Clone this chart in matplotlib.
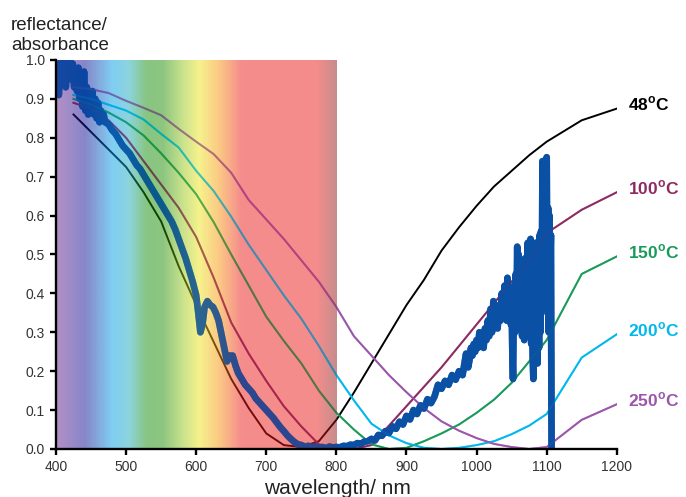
import numpy as np
import matplotlib.pyplot as plt
from matplotlib.colors import LinearSegmentedColormap

plt.rcParams['font.family'] = ['Liberation Sans', 'DejaVu Sans']
plt.rcParams['mathtext.fontset'] = 'custom'
plt.rcParams['mathtext.rm'] = 'Liberation Sans'
plt.rcParams['mathtext.bf'] = 'Liberation Sans:bold'

# reflectance curves, sampled on a common wavelength grid (nm)
wl = [425, 450, 475, 500, 525, 550, 575, 600, 625, 650, 675, 700, 725, 750,
      775, 800, 825, 850, 875, 900, 925, 950, 975, 1000, 1025, 1050, 1075,
      1100, 1150, 1200]
r48 = [0.86, 0.815, 0.77, 0.725, 0.66, 0.585, 0.47, 0.37, 0.275, 0.18, 0.105,
       0.04, 0.01, 0.005, 0.02, 0.075, 0.145, 0.22, 0.295, 0.37, 0.435, 0.51,
       0.57, 0.625, 0.675, 0.715, 0.755, 0.79, 0.845, 0.875]
r100 = [0.89, 0.875, 0.845, 0.80, 0.74, 0.68, 0.62, 0.545, 0.44, 0.325, 0.245,
        0.175, 0.11, 0.058, 0.012, 0.0, 0.0, 0.01, 0.06, 0.11, 0.16, 0.21,
        0.265, 0.32, 0.375, 0.43, 0.485, 0.555, 0.615, 0.66]
r150 = [0.90, 0.885, 0.865, 0.84, 0.806, 0.76, 0.71, 0.655, 0.583, 0.50, 0.42,
        0.34, 0.278, 0.22, 0.15, 0.093, 0.05, 0.012, 0.0, 0.003, 0.02, 0.04,
        0.063, 0.093, 0.127, 0.17, 0.225, 0.28, 0.45, 0.495]
r200 = [0.91, 0.90, 0.885, 0.87, 0.847, 0.81, 0.775, 0.715, 0.663, 0.597,
        0.525, 0.46, 0.395, 0.335, 0.265, 0.19, 0.125, 0.065, 0.035, 0.015,
        0.003, 0.0, 0.003, 0.01, 0.02, 0.038, 0.06, 0.09, 0.235, 0.295]
r250 = [0.93, 0.925, 0.915, 0.895, 0.877, 0.858, 0.823, 0.79, 0.758, 0.71,
        0.64, 0.59, 0.54, 0.485, 0.43, 0.365, 0.29, 0.24, 0.19, 0.146, 0.105,
        0.071, 0.047, 0.028, 0.013, 0.005, 0.0, 0.005, 0.075, 0.115]

# absorbance spectrum (noisy), 400-1038 nm
abs_wl_a = [400, 402, 404, 406, 408, 410, 412, 414, 416, 418, 420, 422, 424,
            426, 428, 430, 432, 434, 436, 438, 440, 442, 444, 446, 448, 450,
            452, 454, 456, 458, 460, 462, 464, 466, 468, 470, 475, 480, 485,
            490, 495, 500, 505, 510, 515, 520, 525, 530, 535, 540, 545, 550,
            555, 560, 565, 570, 575, 580, 585, 590, 595, 600, 603, 606, 609,
            612, 616, 620, 624, 628, 632, 636, 640, 644, 648, 652, 656, 660,
            665, 670, 675, 680, 685, 690, 695, 700, 705, 710, 715, 720, 725,
            730, 735, 740, 745, 750, 755, 760, 765, 770, 775, 780, 785, 790,
            795, 800, 805, 810, 815, 820, 825, 830, 835, 840, 845, 850, 855,
            860, 865, 870, 875, 880, 885, 890, 895, 900, 905, 910, 915, 920,
            925, 930, 935, 940, 945, 950, 955, 960, 965, 970, 975, 980, 985,
            988, 990, 992, 994, 996, 998, 1000, 1002, 1004, 1006, 1008, 1010,
            1012, 1014, 1016, 1018, 1020, 1022, 1024, 1026, 1028, 1030, 1032,
            1034, 1036, 1038]
abs_val_a = [0.93, 0.99, 0.91, 0.97, 1.00, 0.94, 0.99, 0.93, 1.00, 0.96, 1.00,
             0.95, 0.99, 0.93, 0.97, 0.92, 0.98, 0.90, 0.95, 0.88, 0.97, 0.87,
             0.93, 0.86, 0.91, 0.87, 0.92, 0.86, 0.90, 0.85, 0.89, 0.84, 0.87,
             0.85, 0.86, 0.84, 0.835, 0.82, 0.81, 0.795, 0.78, 0.77, 0.76,
             0.745, 0.73, 0.72, 0.705, 0.69, 0.675, 0.66, 0.645, 0.63, 0.615,
             0.60, 0.585, 0.565, 0.54, 0.515, 0.49, 0.46, 0.43, 0.395, 0.35,
             0.30, 0.32, 0.365, 0.38, 0.37, 0.365, 0.35, 0.33, 0.295, 0.26,
             0.225, 0.24, 0.24, 0.215, 0.195, 0.18, 0.165, 0.155, 0.145, 0.13,
             0.12, 0.11, 0.10, 0.09, 0.08, 0.068, 0.056, 0.046, 0.035, 0.026,
             0.018, 0.012, 0.010, 0.006, 0.008, 0.004, 0.007, 0.003, 0.005,
             0.002, 0.006, 0.004, 0.005, 0.004, 0.008, 0.007, 0.011, 0.010,
             0.015, 0.013, 0.019, 0.020, 0.026, 0.022, 0.036, 0.034, 0.046,
             0.041, 0.058, 0.052, 0.070, 0.063, 0.085, 0.076, 0.100, 0.090,
             0.112, 0.104, 0.128, 0.118, 0.135, 0.165, 0.155, 0.175, 0.165,
             0.190, 0.178, 0.200, 0.190, 0.245, 0.21, 0.23, 0.26, 0.24, 0.27,
             0.25, 0.28, 0.26, 0.30, 0.27, 0.29, 0.26, 0.31, 0.28, 0.33, 0.29,
             0.36, 0.30, 0.38, 0.32, 0.35, 0.31, 0.37, 0.33, 0.40, 0.34]
# 1040-1107 nm, every 1 nm
abs_wl_b = list(range(1040, 1108))
abs_val_b = [0.42, 0.34, 0.40, 0.33, 0.44, 0.35, 0.42, 0.34, 0.41, 0.32,
             0.38, 0.25, 0.18, 0.36, 0.42, 0.30, 0.45, 0.33, 0.52, 0.36,
             0.50, 0.34, 0.47, 0.31, 0.46, 0.29, 0.45, 0.33, 0.28, 0.49,
             0.30, 0.47, 0.32, 0.53, 0.36, 0.51, 0.30, 0.54, 0.27, 0.50,
             0.24, 0.18, 0.46, 0.25, 0.53, 0.24, 0.50, 0.22, 0.48, 0.26,
             0.55, 0.30, 0.56, 0.38, 0.74, 0.45, 0.72, 0.50, 0.74, 0.42,
             0.75, 0.35, 0.62, 0.30, 0.60, 0.45, 0.55, 0.0]
abs_wl = abs_wl_a + abs_wl_b
abs_val = abs_val_a + abs_val_b

labels = ['48', '100', '150', '200', '250']
series = [r48, r100, r150, r200, r250]
colors = ['#000000', '#8E2A63', '#1A9A5A', '#00B8EC', '#9B55AA']
abs_color = '#0A50A5'

# visible spectrum band drawn over the curves
spec_stops = [(0.00, (0.40, 0.12, 0.55)), (0.10, (0.05, 0.05, 0.58)),
              (0.20, (0.00, 0.62, 0.90)), (0.26, (0.10, 0.66, 0.72)),
              (0.32, (0.06, 0.55, 0.02)), (0.38, (0.10, 0.55, 0.0)),
              (0.45, (0.57, 0.77, 0.10)), (0.51, (0.93, 0.90, 0.10)),
              (0.58, (0.97, 0.58, 0.03)), (0.66, (0.92, 0.10, 0.10)),
              (0.93, (0.92, 0.10, 0.10)), (1.00, (0.57, 0.10, 0.10))]
spectrum = LinearSegmentedColormap.from_list('spec', spec_stops)

fig = plt.figure(figsize=(6.86, 4.97), dpi=100)
ax = fig.add_axes([0.0816, 0.0966, 0.8175, 0.7827])

for vals, c in zip(series, colors):
    ax.plot(wl, vals, color=c, lw=1.4, zorder=2)
ax.plot(abs_wl, abs_val, color=abs_color, lw=4.8, zorder=2.1)

grad = np.linspace(0, 1, 400).reshape(1, -1)
ax.imshow(grad, cmap=spectrum, extent=[400, 800, 0, 1], aspect='auto',
          alpha=0.5, zorder=2.3, interpolation='bilinear')
# curves show partly through the colour band
for vals, c in zip(series[1:], colors[1:]):
    ax.plot(wl, vals, color=c, lw=1.4, alpha=0.45, zorder=2.35)
ax.plot(abs_wl, abs_val, color=abs_color, lw=4.8, alpha=0.7, zorder=2.4)

ax.set_xlim(400, 1200)
ax.set_ylim(0, 1.0)
ax.set_xticks(range(400, 1201, 100))
ax.set_yticks(np.arange(0, 1.01, 0.1))
ax.set_yticklabels([f'{v:.1f}' for v in np.arange(0, 1.01, 0.1)])
for s in ['top', 'right']:
    ax.spines[s].set_visible(False)
for s in ['left', 'bottom']:
    ax.spines[s].set_linewidth(1.7)
    ax.spines[s].set_zorder(3)
ax.tick_params(direction='out', length=4, width=1.7, labelsize=10,
               labelcolor='#333333', pad=4)

for lab, vals, c in zip(labels, series, colors):
    ax.text(1216, vals[-1] + 0.012, lab + r'$^{\mathbf{o}}$C', color=c,
            fontsize=12.5, fontweight='bold', ha='left', va='center',
            clip_on=False)

fig.text(0.016, 0.948, 'reflectance/', fontsize=13.5, color='#222222',
         ha='left', va='center')
fig.text(0.016, 0.908, 'absorbance', fontsize=13.5, color='#222222',
         ha='left', va='center')
fig.text(0.492, 0.018, 'wavelength/ nm', fontsize=15, color='#222222',
         ha='center', va='center')

fig.savefig('out.png', dpi=100)
